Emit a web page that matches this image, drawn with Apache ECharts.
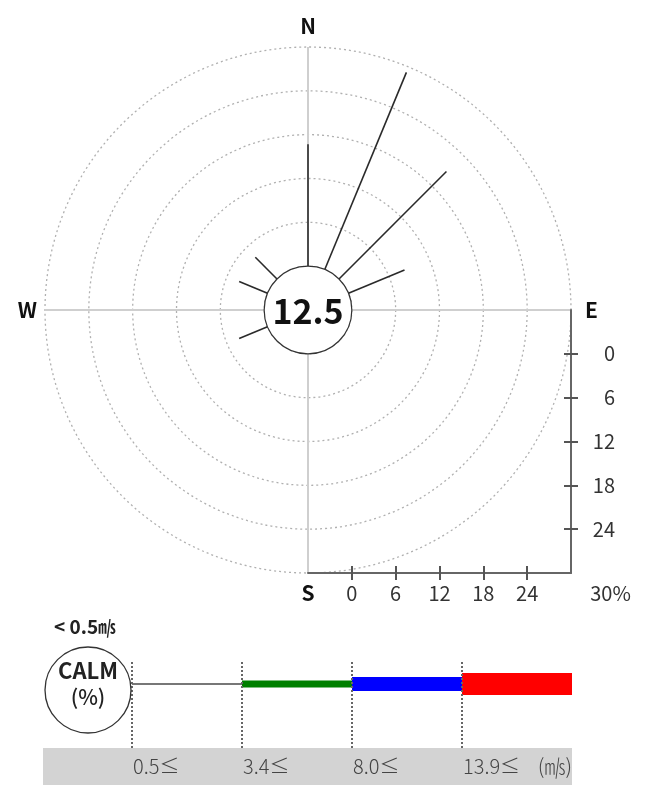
<!DOCTYPE html>
<html>
<head>
<meta charset="utf-8">
<script src="https://cdn.jsdelivr.net/npm/echarts@6/dist/echarts.min.js"></script>
<style>
  html, body { margin: 0; padding: 0; background: #fff; }
  #chart { width: 646px; height: 785px; }
</style>
</head>
<body>
<div id="chart"></div>
<script>
// Wind directions (16 points) and frequency of each direction, %
const directions = ['N', 'NNE', 'NE', 'ENE', 'E', 'ESE', 'SE', 'SSE',
                    'S', 'SSW', 'SW', 'WSW', 'W', 'WNW', 'NW', 'NNW'];
const frequency = [16.7, 29.2, 20.8, 8.3, 0, 0, 0, 0,
                   0, 0, 0, 4.2, 0, 4.2, 4.2, 0];
// Calm share (< 0.5 m/s), %
const calm = 12.5;

// Scale ticks (percent)
const scaleTicks = [0, 6, 12, 18, 24];
const scaleMax = 30;
const scaleMin = -6;   // inner offset so that 0 sits on the calm circle

// Speed classes for the legend
const speedClasses = ['0.5≤', '3.4≤', '8.0≤', '13.9≤'];
const speedUnit = '(㎧)';
const calmLabel = ['CALM', '(%)'];
const calmLimit = '< 0.5';

const compass = { 0: 'N', 90: 'E', 180: 'S', 270: 'W' };

const FONT = "'Noto Sans CJK KR', 'Noto Sans', sans-serif";
const CX = 308, CY = 310, R = 263;

const chart = echarts.init(document.getElementById('chart'), null, { renderer: 'canvas' });

// Legend geometry
const legX = [132, 242, 352, 462, 572];
const legY = 684;
const legColors = ['#777777', '#008000', '#0000ff', '#ff0000'];
const legWidths = [2, 7, 14, 22];

const legendGraphics = [];
legendGraphics.push({
  type: 'rect', shape: { x: 43, y: 748, width: 529, height: 37 },
  style: { fill: '#d3d3d3' }, z: 1
});
speedClasses.forEach((s, i) => {
  legendGraphics.push({
    type: 'rect',
    shape: { x: legX[i], y: legY - legWidths[i] / 2, width: legX[i + 1] - legX[i], height: legWidths[i] },
    style: { fill: legColors[i] }, z: 2
  });
  legendGraphics.push({
    type: 'text',
    style: { x: legX[i] + 1, y: 766, text: s, align: 'left', verticalAlign: 'middle',
             font: '300 20px ' + FONT, fill: '#444' }, z: 3
  });
});
legX.slice(0, 4).forEach(x => {
  legendGraphics.push({
    type: 'line', shape: { x1: x, y1: 662, x2: x, y2: 748 },
    style: { stroke: '#666', lineWidth: 2, lineDash: [2, 2] }, z: 4
  });
});
legendGraphics.push({
  type: 'text',
  style: { x: 572, y: 766, text: speedUnit, align: 'right', verticalAlign: 'middle',
           font: '300 21px ' + FONT, fill: '#444' }, z: 3
});
legendGraphics.push({
  type: 'circle', shape: { cx: 88, cy: 690, r: 43 },
  style: { fill: '#fff', stroke: '#333', lineWidth: 1.3 }, z: 5
});
legendGraphics.push({
  type: 'text',
  style: { x: 88, y: 671, text: calmLabel[0], align: 'center', verticalAlign: 'middle',
           font: '600 22px ' + FONT, fill: '#222' }, z: 6
});
legendGraphics.push({
  type: 'text',
  style: { x: 88, y: 697, text: calmLabel[1], align: 'center', verticalAlign: 'middle',
           font: '500 21px ' + FONT, fill: '#222' }, z: 6
});
legendGraphics.push({
  type: 'text',
  style: {
    x: 54, y: 627, text: '{a|' + calmLimit + '}{u|㎧}', verticalAlign: 'middle',
    rich: {
      a: { fontFamily: FONT, fontSize: 19, fontWeight: 'bold', fill: '#222' },
      u: { fontFamily: FONT, fontSize: 18, fontWeight: 'bold', fill: '#222' }
    }
  }, z: 6
});

const tickStyleCommon = { lineStyle: { color: '#555', width: 2 }, length: 7, customValues: scaleTicks };

const option = {
  animation: false,
  backgroundColor: '#fff',
  polar: { center: [CX, CY], radius: R },
  angleAxis: {
    type: 'value', min: 0, max: 360, interval: 90,
    startAngle: 90, clockwise: true,
    axisLine: { show: false },
    axisTick: { show: false },
    axisLabel: {
      margin: 8,
      formatter: v => compass[v] ? '{' + compass[v].toLowerCase() + '|' + compass[v] + '}' : '',
      rich: {
        n: { fontFamily: FONT, fontSize: 21, fontWeight: 'bold', color: '#111', padding: [0, 0, 2, 0] },
        e: { fontFamily: FONT, fontSize: 21, fontWeight: 'bold', color: '#111', padding: [0, 0, 0, 6] },
        s: { fontFamily: FONT, fontSize: 21, fontWeight: 'bold', color: '#111', padding: [2, 0, 0, 0] },
        w: { fontFamily: FONT, fontSize: 21, fontWeight: 'bold', color: '#111', padding: [0, 0, 0, 0] }
      }
    },
    splitLine: { show: true, lineStyle: { color: '#cfcfcf', width: 2, type: 'solid' } }
  },
  radiusAxis: {
    type: 'value', min: scaleMin, max: scaleMax, interval: 6,
    axisLine: { show: false }, axisTick: { show: false }, axisLabel: { show: false },
    splitLine: { show: true, lineStyle: { color: '#b0b0b0', width: 1.3, type: [2, 3] } }
  },
  grid: { left: CX, top: CY, width: R, height: R },
  xAxis: [{
    type: 'value', min: scaleMin, max: scaleMax, interval: 6, position: 'bottom',
    axisLine: { onZero: false, lineStyle: { color: '#666', width: 2 } },
    axisTick: tickStyleCommon,
    axisLabel: {
      customValues: scaleTicks.concat([scaleMax]),
      margin: 10, fontFamily: FONT, fontSize: 20, color: '#333',
      formatter: v => v === scaleMax ? '{p|' + v + '%}' : String(v),
      rich: { p: { fontFamily: FONT, fontSize: 20, color: '#333', padding: [0, 0, 0, 79] } }
    },
    splitLine: { show: false }
  }, {
    type: 'value', min: scaleMin, max: scaleMax, interval: 6, position: 'bottom',
    axisLine: { show: false, onZero: false },
    axisTick: Object.assign({ inside: true }, tickStyleCommon),
    axisLabel: { show: false },
    splitLine: { show: false }
  }],
  yAxis: [{
    type: 'value', min: scaleMin, max: scaleMax, interval: 6, inverse: true, position: 'right',
    axisLine: { onZero: false, lineStyle: { color: '#666', width: 2 } },
    axisTick: tickStyleCommon,
    axisLabel: {
      customValues: scaleTicks,
      align: 'right', margin: 44, fontFamily: FONT, fontSize: 20, color: '#333'
    },
    splitLine: { show: false }
  }, {
    type: 'value', min: scaleMin, max: scaleMax, interval: 6, inverse: true, position: 'right',
    axisLine: { show: false, onZero: false },
    axisTick: Object.assign({ inside: true }, tickStyleCommon),
    axisLabel: { show: false },
    splitLine: { show: false }
  }],
  graphic: legendGraphics,
  series: [{
    // one spoke per direction, from the calm circle outwards
    type: 'custom',
    coordinateSystem: 'polar',
    data: directions.map((d, i) => [frequency[i], i * 22.5, d]),
    z: 3,
    renderItem(params, api) {
      const v = api.value(0), a = api.value(1);
      if (!v) return null;
      const p0 = api.coord([0, a]);
      const p1 = api.coord([v, a]);
      return {
        type: 'line',
        shape: { x1: p0[0], y1: p0[1], x2: p1[0], y2: p1[1] },
        style: { stroke: '#2a2a2a', lineWidth: 1.6 }
      };
    }
  }, {
    // calm circle with its percentage
    type: 'custom',
    coordinateSystem: 'polar',
    data: [[calm, 0]],
    z: 4,
    renderItem(params, api) {
      const c = api.coord([scaleMin, 0]);
      const e = api.coord([0, 0]);
      const r = Math.hypot(e[0] - c[0], e[1] - c[1]);
      return {
        type: 'group',
        children: [{
          type: 'circle', shape: { cx: c[0], cy: c[1], r: r },
          style: { fill: '#fff', stroke: '#333', lineWidth: 1.2 }
        }, {
          type: 'text',
          style: {
            x: c[0], y: c[1] + 1, text: String(api.value(0)),
            align: 'center', verticalAlign: 'middle',
            font: 'bold 34px ' + FONT, fill: '#111'
          }
        }]
      };
    }
  }]
};

chart.setOption(option);
</script>
</body>
</html>
